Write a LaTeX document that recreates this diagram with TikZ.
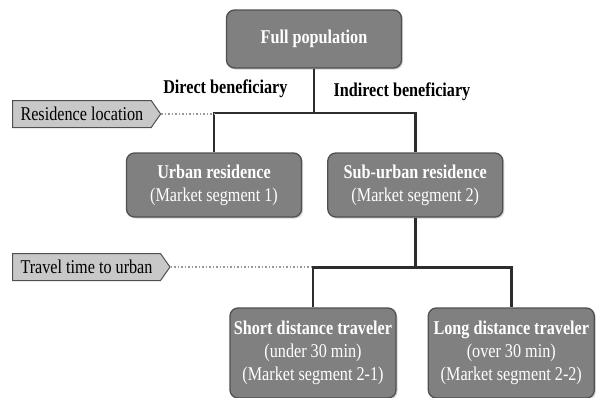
\documentclass[tikz,border=0pt]{standalone}
\usepackage{fontspec}
\setmainfont{Liberation Serif}[FakeStretch=0.83]
\usetikzlibrary{positioning,shapes.symbols,shadows}
\definecolor{boxgray}{RGB}{128,128,128}
\definecolor{boxline}{RGB}{80,80,80}
\definecolor{taggray}{RGB}{200,200,200}
\definecolor{linegray}{RGB}{45,45,45}

\begin{document}
\begin{tikzpicture}[x=1pt,y=1pt,
    seg/.style={draw=boxline,line width=1.3pt,fill=boxgray,rounded corners=8pt,
      minimum width=175pt,minimum height=64pt,align=center,text=white,
      font=\fontsize{19.5}{23}\selectfont,
      drop shadow={shadow xshift=1.5pt,shadow yshift=-1.5pt,opacity=0.35}},
    tag/.style={signal,signal to=east,signal pointer angle=110,draw=boxline,
      line width=1pt,fill=taggray,minimum height=27pt,inner xsep=8pt,
      font=\fontsize{19.5}{21}\selectfont},
    lbl/.style={font=\fontsize{19.5}{23}\selectfont\bfseries},
    tree/.style={draw=linegray,line width=2.5pt},
    dots/.style={draw=gray!80,line width=1.5pt,dotted}]
  \useasboundingbox (0,0) rectangle (602,-397);

  \node[seg,minimum height=58pt] (pop) at (314,-39) {\bfseries Full population};
  \node[seg] (urb) at (214,-185) {{\bfseries Urban residence}\\(Market segment 1)};
  \node[seg,right=25pt of urb] (sub) {{\bfseries Sub-urban residence}\\(Market segment 2)};
  \node[seg,minimum width=166pt,minimum height=90pt] (short) at (313,-353)
    {{\bfseries Short distance traveler}\\(under 30 min)\\(Market segment 2-1)};
  \node[seg,minimum width=166pt,minimum height=90pt,right=31pt of short] (long)
    {{\bfseries Long distance traveler}\\(over 30 min)\\(Market segment 2-2)};

  \node[tag,anchor=west] (res) at (12,-114) {Residence location};
  \node[tag,anchor=west] (trav) at (12,-267) {Travel time to urban};

  \node[lbl,anchor=east] (direct) at (291,-89) {Direct beneficiary};
  \node[lbl,anchor=west] (indirect) at (330,-92) {Indirect beneficiary};

  % first split
  \coordinate (s1) at (314,-113);
  \draw[tree] (pop.south) -- (s1);
  \draw[tree] (urb.north) |- (s1) -| (sub.north);
  \draw[dots] (res.east) -- (res.east -| urb.north);

  % second split
  \path (sub.south) ++(0,-50) coordinate (s2);
  \draw[tree] (sub.south) -- (s2);
  \draw[tree] (short.north) |- (s2) -| (long.north);
  \draw[dots] (trav.east) -- (trav.east -| short.north);
\end{tikzpicture}
\end{document}
